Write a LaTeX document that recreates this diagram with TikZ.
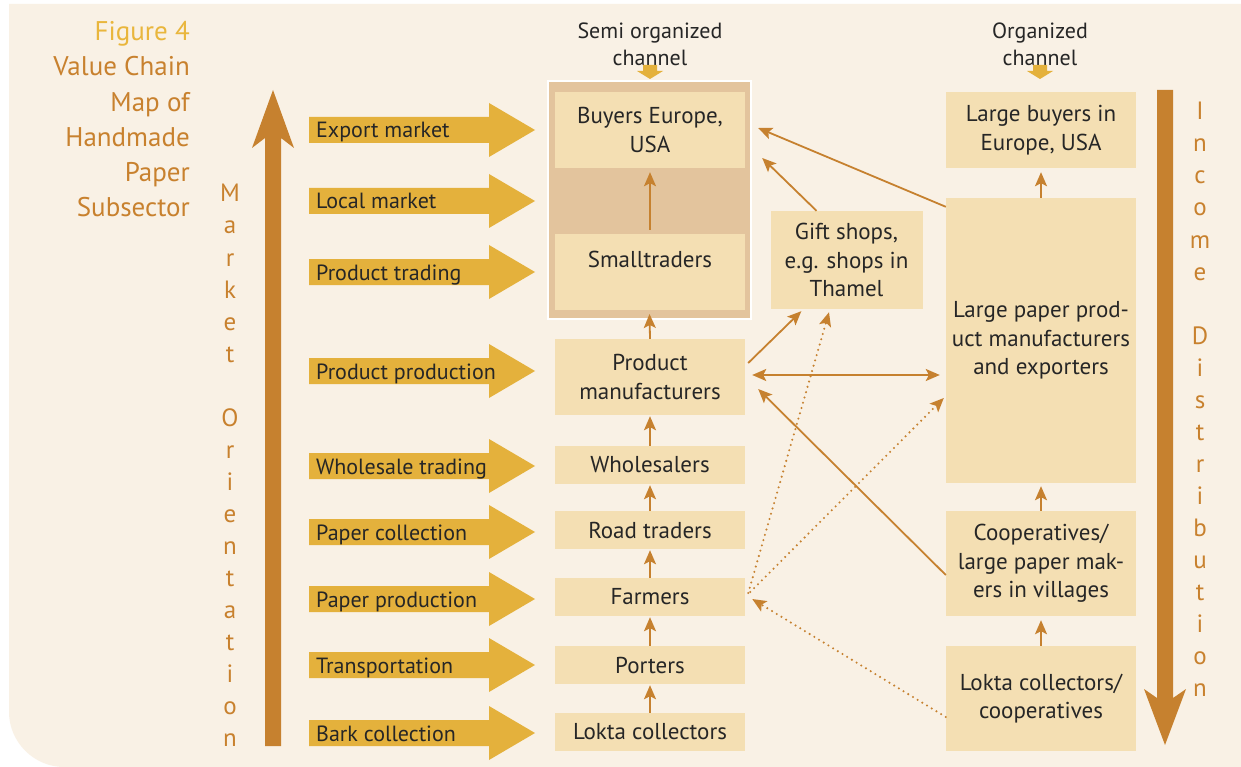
\documentclass[tikz,border=0pt]{standalone}
\usepackage{fontspec}
\setmainfont{PT Sans}
\usetikzlibrary{arrows.meta}
\definecolor{bg}{HTML}{F9F1E5}
\definecolor{boxc}{HTML}{F4DFB3}
\definecolor{semic}{HTML}{E3C49D}
\definecolor{arr}{HTML}{C6812F}
\definecolor{yel}{HTML}{E4B13C}
\definecolor{txt}{HTML}{262626}
\definecolor{titl}{HTML}{C8812E}
\definecolor{figc}{HTML}{E9B63C}
\begin{document}
\begin{tikzpicture}[x=1pt,y=-1pt,
 bx/.style={fill=boxc,text=txt,align=center,inner sep=0pt,minimum width=190pt,font=\fontsize{23}{28.5}\selectfont},
 ar/.style={draw=arr,line width=1.8pt,-{Stealth[length=14pt,width=12pt,inset=3pt]}},
 dar/.style={draw=arr,line width=1.8pt,{Stealth[length=14pt,width=12pt,inset=3pt]}-{Stealth[length=14pt,width=12pt,inset=3pt]}},
 dt/.style={draw=arr,line width=2.3pt,line cap=round,dash pattern=on 0pt off 5.5pt,-{Stealth[length=14pt,width=12pt,inset=3pt]}},
 lab/.style={text=txt,font=\fontsize{22}{24}\selectfont,anchor=base west,inner sep=0pt},
 vl/.style={text=titl,font=\fontsize{25}{30}\selectfont,anchor=base,inner sep=0pt},
 tt/.style={text=titl,font=\fontsize{27}{34}\selectfont,anchor=base east,inner sep=0pt},
 ch/.style={text=txt,align=center,inner sep=0pt,font=\fontsize{22}{27}\selectfont},
]
\useasboundingbox (0,0) rectangle (1241,767);
\fill[white] (0,0) rectangle (1241,767);
\fill[bg] (9,4) -- (1241,4) -- (1241,767) -- (64,767) .. controls (34,767) and (9,742) .. (9,712) -- cycle;

% title
\node[tt,text=figc] (t1) at (190,41) {Figure 4};
\node[tt] (t2) at (190,76) {Value Chain};
\node[tt] (t3) at (190,111.5) {Map of};
\node[tt] (t4) at (190,147) {Handmade};
\node[tt] (t5) at (190,182) {Paper};
\node[tt] (t6) at (190,217) {Subsector};

% market orientation / income distribution
\foreach \l/\i in {M/1,a/2,r/3,k/4,e/5,t/6,O/8,r/9,i/10,e/11,n/12,t/13,a/14,t/15,i/16,o/17,n/18}
  \node[vl] (mo\i) at (230,{202+32*(\i-1)}) {\l};
\foreach \l/\i in {I/1,n/2,c/3,o/4,m/5,e/6,D/8,i/9,s/10,t/11,r/12,i/13,b/14,u/15,t/16,i/17,o/18,n/19}
  \node[vl] (id\i) at (1200,{120+32*(\i-1)}) {\l};

% big arrows
\fill[arr] (273,90) -- (294,148) -- (281,138) -- (281,746) -- (265,746) -- (265,138) -- (252,148) -- cycle;
\fill[arr] (1157,90) -- (1173,90) -- (1173,698) -- (1186,689) -- (1165,745) -- (1144,689) -- (1157,698) -- cycle;

% yellow arrows
\foreach \y/\t/\n in {130/Export market/a1, 201/Local market/a2, 272/Product trading/a3, 371/Product production/a4, 466/Wholesale trading/a5, 532/Paper collection/a6, 599/Paper production/a7, 665/Transportation/a8, 733/Bark collection/a9}{
  \fill[yel] (309,\y-13) -- (489,\y-13) -- (489,\y-27) -- (535,\y) -- (489,\y+27) -- (489,\y+13) -- (309,\y+13) -- cycle;
  \node[lab] (\n) at (316,\y+8) {\t};
}

% channel labels
\node[ch] (semil) at (650,44) {Semi organized\\channel};
\node[ch] (orgl) at (1040,44) {Organized\\channel};
\foreach \x in {650,1040}{
  \fill[yel] (\x-7,65) -- (\x+7,65) -- (\x+7,71) -- (\x+13,71) -- (\x,79) -- (\x-13,71) -- (\x-7,71) -- cycle;
}

% semi organized box
\node[fill=semic,draw=white,line width=2pt,minimum width=203pt,minimum height=238pt,inner sep=0pt] (semi) at (649.5,200) {};
\node[bx,minimum height=76pt] (buyers) at (650,130) {Buyers Europe,\\USA};
\node[bx,minimum height=76pt] (smallbox) at (650,272) {};
\node[text=txt,inner sep=0pt,font=\fontsize{23}{28.5}\selectfont] (smalltxt) at (650,259) {Smalltraders};

% left column
\node[bx,minimum height=76pt] (prodman) at (650,377) {Product\\manufacturers};
\node[bx,minimum height=38pt] (wholes) at (650,465) {Wholesalers};
\node[bx,minimum height=38pt] (road) at (650,530) {Road traders};
\node[bx,minimum height=38pt] (farmers) at (650,597) {Farmers};
\node[bx,minimum height=38pt] (porters) at (650,665) {Porters};
\node[bx,minimum height=38pt] (lokta) at (650,732) {Lokta collectors};

% gift shops
\node[bx,minimum width=152pt,minimum height=98pt] (gift) at (846.5,260) {Gift shops,\\e.g. shops in\\Thamel};

% right column
\node[bx,minimum height=76pt] (lbuyers) at (1041,130) {Large buyers in\\Europe, USA};
\node[bx,minimum height=285pt] (lpaper) at (1041,340.5) {Large paper prod-\\uct manufacturers\\and exporters};
\node[bx,minimum height=105pt] (coop) at (1041,563.5) {Cooperatives/\\large paper mak-\\ers in villages};
\node[bx,minimum height=105pt] (lcoop) at (1041,698.5) {Lokta collectors/\\cooperatives};

% vertical arrows
\draw[ar] (lokta.north) -- ([yshift=-1pt]porters.south);
\draw[ar] (porters.north) -- ([yshift=-1pt]farmers.south);
\draw[ar] (farmers.north) -- ([yshift=-1pt]road.south);
\draw[ar] (road.north) -- ([yshift=-1pt]wholes.south);
\draw[ar] (wholes.north) -- ([yshift=-1pt]prodman.south);
\draw[ar] (prodman.north) -- ([yshift=6pt]semi.south);
\draw[ar] ([yshift=4pt]smallbox.north) -- ([yshift=-4pt]buyers.south);
\draw[ar] (lpaper.north) -- ([yshift=-4pt]lbuyers.south);
\draw[ar] (coop.north) -- ([yshift=-3pt]lpaper.south);
\draw[ar] (lcoop.north) -- ([yshift=-4pt]coop.south);

% diagonal arrows
\draw[ar] ([yshift=-9pt]lpaper.north west) -- ([xshift=13pt,yshift=2pt]buyers.east);
\draw[ar] ([xshift=-30pt]gift.north) -- ([xshift=17pt,yshift=-28pt]buyers.east);
\draw[ar] ([xshift=3pt,yshift=14pt]prodman.east) -- ([xshift=31pt,yshift=-2pt]gift.south west);
\draw[dar] ([xshift=7pt,yshift=2pt]prodman.east) -- ([xshift=-6pt,yshift=-34.5pt]lpaper.west);
\draw[ar] ([yshift=-11.5pt]coop.west) -- ([xshift=13pt,yshift=-12pt]prodman.east);
\draw[dt] ([xshift=3pt,yshift=4pt]farmers.east) -- ([xshift=-17.5pt,yshift=-3pt]gift.south);
\draw[dt] ([xshift=5pt,yshift=5pt]farmers.east) -- ([xshift=-2pt,yshift=-57.5pt]lpaper.west);
\draw[dt] ([yshift=-18.5pt]lcoop.west) -- ([xshift=7pt,yshift=-2pt]farmers.east);
\end{tikzpicture}
\end{document}
